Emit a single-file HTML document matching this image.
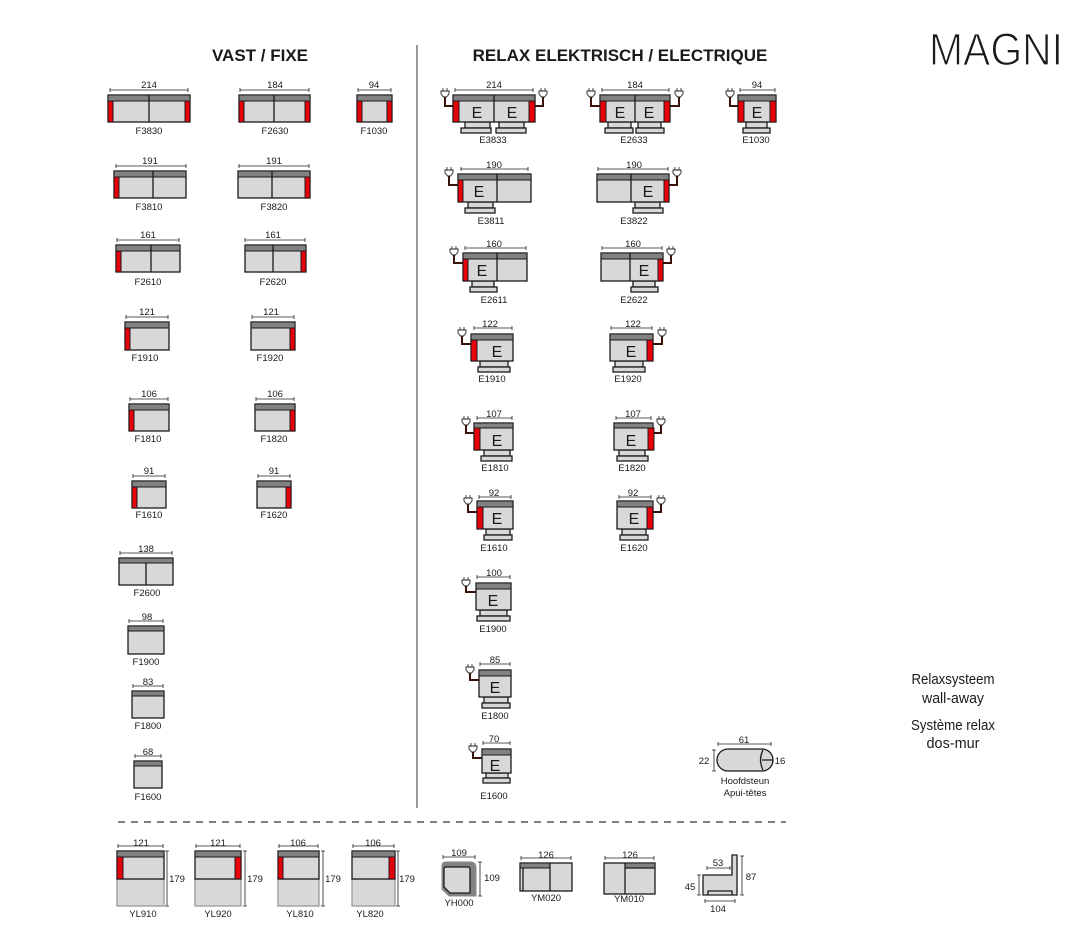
<!DOCTYPE html>
<html><head><meta charset="utf-8"><style>
body{margin:0;background:#fff}
svg{display:block}
.b{fill:#d8d8d8;stroke:#1a1a1a;stroke-width:1.3}
.k{fill:#828282;stroke:#1a1a1a;stroke-width:1}
.r{fill:#e8000b;stroke:#1a1a1a;stroke-width:1}
.l{stroke:#1a1a1a;stroke-width:1.3;fill:none}
.d{stroke:#222;stroke-width:0.8;fill:none}
.w{stroke:#3a1208;stroke-width:2;fill:none}
text{font-family:"Liberation Sans",sans-serif;fill:#1a1a1a}
.t{font-size:9.5px;text-anchor:middle}
.e{font-size:16px;text-anchor:middle}
</style></head><body>
<svg width="1074" height="937" viewBox="0 0 1074 937" xmlns="http://www.w3.org/2000/svg">
<defs>
<g id="p"><path class="d" d="M-2 0v3M2 0v3"/><path d="M-4 3h8v3l-2.5 3h-3l-2.5-3z" fill="#fff" stroke="#222" stroke-width="0.9"/></g>
</defs>
<text x="260" y="61" font-size="17" font-weight="bold" text-anchor="middle">VAST / FIXE</text>
<text x="620" y="61" font-size="17" font-weight="bold" text-anchor="middle">RELAX ELEKTRISCH / ELECTRIQUE</text>
<text x="929" y="65" font-size="45" textLength="134" lengthAdjust="spacingAndGlyphs" stroke="#fff" stroke-width="1.2" paint-order="normal">MAGNI</text>
<line x1="417" y1="45" x2="417" y2="808" stroke="#333" stroke-width="1"/>
<line x1="118" y1="822" x2="786" y2="822" stroke="#333" stroke-width="1.2" stroke-dasharray="7,6"/>

<g font-size="14.5">
<text x="953" y="684" text-anchor="middle" textLength="83" lengthAdjust="spacingAndGlyphs">Relaxsysteem</text>
<text x="953" y="703" text-anchor="middle" textLength="62" lengthAdjust="spacingAndGlyphs">wall-away</text>
<text x="953" y="730" text-anchor="middle" textLength="84" lengthAdjust="spacingAndGlyphs">Système relax</text>
<text x="953" y="748" text-anchor="middle" textLength="53" lengthAdjust="spacingAndGlyphs">dos-mur</text>
</g>

<!-- FIXED -->
<rect class="b" x="108" y="95" width="82" height="27"/><rect class="k" x="108" y="95" width="82" height="6"/><rect class="r" x="108" y="101" width="5" height="21"/><rect class="r" x="185" y="101" width="5" height="21"/><line class="l" x1="149" y1="95" x2="149" y2="122"/>
<path class="d" d="M110 90H188M110 88v4M188 88v4"/><text class="t" x="149" y="88">214</text><text class="t" x="149" y="134">F3830</text>
<rect class="b" x="239" y="95" width="71" height="27"/><rect class="k" x="239" y="95" width="71" height="6"/><rect class="r" x="239" y="101" width="5" height="21"/><rect class="r" x="305" y="101" width="5" height="21"/><line class="l" x1="274" y1="95" x2="274" y2="122"/>
<path class="d" d="M240 90H309M240 88v4M309 88v4"/><text class="t" x="275" y="88">184</text><text class="t" x="275" y="134">F2630</text>
<rect class="b" x="357" y="95" width="35" height="27"/><rect class="k" x="357" y="95" width="35" height="6"/><rect class="r" x="357" y="101" width="5" height="21"/><rect class="r" x="387" y="101" width="5" height="21"/>
<path class="d" d="M358 90H391M358 88v4M391 88v4"/><text class="t" x="374" y="88">94</text><text class="t" x="374" y="134">F1030</text>
<rect class="b" x="114" y="171" width="72" height="27"/><rect class="k" x="114" y="171" width="72" height="6"/><rect class="r" x="114" y="177" width="5" height="21"/><line class="l" x1="153" y1="171" x2="153" y2="198"/>
<path class="d" d="M116 166H186M116 164v4M186 164v4"/><text class="t" x="150" y="164">191</text><text class="t" x="149" y="210">F3810</text>
<rect class="b" x="238" y="171" width="72" height="27"/><rect class="k" x="238" y="171" width="72" height="6"/><rect class="r" x="305" y="177" width="5" height="21"/><line class="l" x1="272" y1="171" x2="272" y2="198"/>
<path class="d" d="M239 166H309M239 164v4M309 164v4"/><text class="t" x="274" y="164">191</text><text class="t" x="274" y="210">F3820</text>
<rect class="b" x="116" y="245" width="64" height="27"/><rect class="k" x="116" y="245" width="64" height="6"/><rect class="r" x="116" y="251" width="5" height="21"/><line class="l" x1="151" y1="245" x2="151" y2="272"/>
<path class="d" d="M117 240H179M117 238v4M179 238v4"/><text class="t" x="148" y="238">161</text><text class="t" x="148" y="285">F2610</text>
<rect class="b" x="245" y="245" width="61" height="27"/><rect class="k" x="245" y="245" width="61" height="6"/><rect class="r" x="301" y="251" width="5" height="21"/><line class="l" x1="273" y1="245" x2="273" y2="272"/>
<path class="d" d="M245 240H305M245 238v4M305 238v4"/><text class="t" x="273" y="238">161</text><text class="t" x="273" y="285">F2620</text>
<rect class="b" x="125" y="322" width="44" height="28"/><rect class="k" x="125" y="322" width="44" height="6"/><rect class="r" x="125" y="328" width="5" height="22"/>
<path class="d" d="M126 317H168M126 315v4M168 315v4"/><text class="t" x="147" y="315">121</text><text class="t" x="145" y="361">F1910</text>
<rect class="b" x="251" y="322" width="44" height="28"/><rect class="k" x="251" y="322" width="44" height="6"/><rect class="r" x="290" y="328" width="5" height="22"/>
<path class="d" d="M252 317H294M252 315v4M294 315v4"/><text class="t" x="271" y="315">121</text><text class="t" x="270" y="361">F1920</text>
<rect class="b" x="129" y="404" width="40" height="27"/><rect class="k" x="129" y="404" width="40" height="6"/><rect class="r" x="129" y="410" width="5" height="21"/>
<path class="d" d="M130 399H168M130 397v4M168 397v4"/><text class="t" x="149" y="397">106</text><text class="t" x="148" y="442">F1810</text>
<rect class="b" x="255" y="404" width="40" height="27"/><rect class="k" x="255" y="404" width="40" height="6"/><rect class="r" x="290" y="410" width="5" height="21"/>
<path class="d" d="M256 399H294M256 397v4M294 397v4"/><text class="t" x="275" y="397">106</text><text class="t" x="274" y="442">F1820</text>
<rect class="b" x="132" y="481" width="34" height="27"/><rect class="k" x="132" y="481" width="34" height="6"/><rect class="r" x="132" y="487" width="5" height="21"/>
<path class="d" d="M133 476H165M133 474v4M165 474v4"/><text class="t" x="149" y="474">91</text><text class="t" x="149" y="518">F1610</text>
<rect class="b" x="257" y="481" width="34" height="27"/><rect class="k" x="257" y="481" width="34" height="6"/><rect class="r" x="286" y="487" width="5" height="21"/>
<path class="d" d="M258 476H290M258 474v4M290 474v4"/><text class="t" x="274" y="474">91</text><text class="t" x="274" y="518">F1620</text>
<rect class="b" x="119" y="558" width="54" height="27"/><rect class="k" x="119" y="558" width="54" height="5"/><line class="l" x1="146" y1="563" x2="146" y2="585"/>
<path class="d" d="M120 553H172M120 551v4M172 551v4"/><text class="t" x="146" y="552">138</text><text class="t" x="147" y="596">F2600</text>
<rect class="b" x="128" y="626" width="36" height="28"/><rect class="k" x="128" y="626" width="36" height="5"/>
<path class="d" d="M129 621H163M129 619v4M163 619v4"/><text class="t" x="147" y="620">98</text><text class="t" x="146" y="665">F1900</text>
<rect class="b" x="132" y="691" width="32" height="27"/><rect class="k" x="132" y="691" width="32" height="5"/>
<path class="d" d="M133 686H163M133 684v4M163 684v4"/><text class="t" x="148" y="685">83</text><text class="t" x="148" y="729">F1800</text>
<rect class="b" x="134" y="761" width="28" height="27"/><rect class="k" x="134" y="761" width="28" height="5"/>
<path class="d" d="M135 756H161M135 754v4M161 754v4"/><text class="t" x="148" y="755">68</text><text class="t" x="148" y="800">F1600</text>

<!-- RELAX -->
<path class="w" d="M445 97V106H453M543 97V106H535"/><use href="#p" x="445" y="88"/><use href="#p" x="543" y="88"/>
<rect class="b" x="465" y="122" width="25" height="6"/><rect class="b" x="461" y="128" width="30" height="5"/><rect class="b" x="499" y="122" width="25" height="6"/><rect class="b" x="496" y="128" width="30" height="5"/>
<rect class="b" x="453" y="95" width="82" height="27"/><rect class="k" x="453" y="95" width="82" height="6"/><rect class="r" x="453" y="101" width="6" height="21"/><rect class="r" x="529" y="101" width="6" height="21"/><line class="l" x1="494" y1="95" x2="494" y2="122"/>
<text class="e" x="477" y="118">E</text><text class="e" x="512" y="118">E</text>
<path class="d" d="M455 90H533M455 88v4M533 88v4"/><text class="t" x="494" y="88">214</text><text class="t" x="493" y="143">E3833</text>
<path class="w" d="M591 97V106H600M679 97V106H670"/><use href="#p" x="591" y="88"/><use href="#p" x="679" y="88"/>
<rect class="b" x="608" y="122" width="23" height="6"/><rect class="b" x="605" y="128" width="28" height="5"/><rect class="b" x="638" y="122" width="23" height="6"/><rect class="b" x="636" y="128" width="28" height="5"/>
<rect class="b" x="600" y="95" width="70" height="27"/><rect class="k" x="600" y="95" width="70" height="6"/><rect class="r" x="600" y="101" width="6" height="21"/><rect class="r" x="664" y="101" width="6" height="21"/><line class="l" x1="635" y1="95" x2="635" y2="122"/>
<text class="e" x="620" y="118">E</text><text class="e" x="649" y="118">E</text>
<path class="d" d="M602 90H669M602 88v4M669 88v4"/><text class="t" x="635" y="88">184</text><text class="t" x="634" y="143">E2633</text>
<path class="w" d="M730 97V106H738"/><use href="#p" x="730" y="88"/>
<rect class="b" x="746" y="122" width="21" height="6"/><rect class="b" x="743" y="128" width="27" height="5"/>
<rect class="b" x="738" y="95" width="38" height="27"/><rect class="k" x="738" y="95" width="38" height="6"/><rect class="r" x="738" y="101" width="6" height="21"/><rect class="r" x="770" y="101" width="6" height="21"/>
<text class="e" x="757" y="118">E</text>
<path class="d" d="M740 90H775M740 88v4M775 88v4"/><text class="t" x="757" y="88">94</text><text class="t" x="756" y="143">E1030</text>
<path class="w" d="M449 176V185H458"/><use href="#p" x="449" y="167"/>
<rect class="b" x="468" y="202" width="25" height="6"/><rect class="b" x="465" y="208" width="30" height="5"/>
<rect class="b" x="458" y="174" width="73" height="28"/><rect class="k" x="458" y="174" width="73" height="6"/><rect class="r" x="458" y="180" width="5" height="22"/><line class="l" x1="497" y1="174" x2="497" y2="202"/>
<text class="e" x="479" y="197">E</text>
<path class="d" d="M461 169H528M461 167v4M528 167v4"/><text class="t" x="494" y="168">190</text><text class="t" x="491" y="224">E3811</text>
<path class="w" d="M677 176V185H669"/><use href="#p" x="677" y="167"/>
<rect class="b" x="635" y="202" width="25" height="6"/><rect class="b" x="633" y="208" width="30" height="5"/>
<rect class="b" x="597" y="174" width="72" height="28"/><rect class="k" x="597" y="174" width="72" height="6"/><rect class="r" x="664" y="180" width="5" height="22"/><line class="l" x1="631" y1="174" x2="631" y2="202"/>
<text class="e" x="648" y="197">E</text>
<path class="d" d="M598 169H668M598 167v4M668 167v4"/><text class="t" x="634" y="168">190</text><text class="t" x="634" y="224">E3822</text>
<path class="w" d="M454 255V263H463"/><use href="#p" x="454" y="246"/>
<rect class="b" x="472" y="281" width="22" height="6"/><rect class="b" x="470" y="287" width="27" height="5"/>
<rect class="b" x="463" y="253" width="64" height="28"/><rect class="k" x="463" y="253" width="64" height="6"/><rect class="r" x="463" y="259" width="5" height="22"/><line class="l" x1="497" y1="253" x2="497" y2="281"/>
<text class="e" x="482" y="276">E</text>
<path class="d" d="M465 248H526M465 246v4M526 246v4"/><text class="t" x="494" y="247">160</text><text class="t" x="494" y="303">E2611</text>
<path class="w" d="M671 255V263H663"/><use href="#p" x="671" y="246"/>
<rect class="b" x="633" y="281" width="22" height="6"/><rect class="b" x="631" y="287" width="27" height="5"/>
<rect class="b" x="601" y="253" width="62" height="28"/><rect class="k" x="601" y="253" width="62" height="6"/><rect class="r" x="658" y="259" width="5" height="22"/><line class="l" x1="630" y1="253" x2="630" y2="281"/>
<text class="e" x="644" y="276">E</text>
<path class="d" d="M602 248H662M602 246v4M662 246v4"/><text class="t" x="633" y="247">160</text><text class="t" x="634" y="303">E2622</text>
<path class="w" d="M462 336V344H471"/><use href="#p" x="462" y="327"/>
<rect class="b" x="480" y="361" width="28" height="6"/><rect class="b" x="478" y="367" width="32" height="5"/>
<rect class="b" x="471" y="334" width="42" height="27"/><rect class="k" x="471" y="334" width="42" height="6"/><rect class="r" x="471" y="340" width="6" height="21"/>
<text class="e" x="497" y="357">E</text>
<path class="d" d="M474 328H512M474 326v4M512 326v4"/><text class="t" x="490" y="327">122</text><text class="t" x="492" y="382">E1910</text>
<path class="w" d="M662 336V344H653"/><use href="#p" x="662" y="327"/>
<rect class="b" x="615" y="361" width="28" height="6"/><rect class="b" x="613" y="367" width="32" height="5"/>
<rect class="b" x="610" y="334" width="43" height="27"/><rect class="k" x="610" y="334" width="43" height="6"/><rect class="r" x="647" y="340" width="6" height="21"/>
<text class="e" x="631" y="357">E</text>
<path class="d" d="M611 328H652M611 326v4M652 326v4"/><text class="t" x="633" y="327">122</text><text class="t" x="628" y="382">E1920</text>
<path class="w" d="M466 425V433H474"/><use href="#p" x="466" y="416"/>
<rect class="b" x="484" y="450" width="26" height="6"/><rect class="b" x="481" y="456" width="31" height="5"/>
<rect class="b" x="474" y="423" width="39" height="27"/><rect class="k" x="474" y="423" width="39" height="5"/><rect class="r" x="474" y="428" width="6" height="22"/>
<text class="e" x="497" y="446">E</text>
<path class="d" d="M477 418H512M477 416v4M512 416v4"/><text class="t" x="494" y="417">107</text><text class="t" x="495" y="471">E1810</text>
<path class="w" d="M661 425V433H653"/><use href="#p" x="661" y="416"/>
<rect class="b" x="619" y="450" width="26" height="6"/><rect class="b" x="617" y="456" width="31" height="5"/>
<rect class="b" x="614" y="423" width="39" height="27"/><rect class="k" x="614" y="423" width="39" height="5"/><rect class="r" x="648" y="428" width="6" height="22"/>
<text class="e" x="631" y="446">E</text>
<path class="d" d="M616 418H651M616 416v4M651 416v4"/><text class="t" x="633" y="417">107</text><text class="t" x="632" y="471">E1820</text>
<path class="w" d="M468 504V512H477"/><use href="#p" x="468" y="495"/>
<rect class="b" x="486" y="529" width="24" height="6"/><rect class="b" x="484" y="535" width="28" height="5"/>
<rect class="b" x="477" y="501" width="36" height="28"/><rect class="k" x="477" y="501" width="36" height="6"/><rect class="r" x="477" y="507" width="6" height="22"/>
<text class="e" x="497" y="524">E</text>
<path class="d" d="M479 497H511M479 495v4M511 495v4"/><text class="t" x="494" y="496">92</text><text class="t" x="494" y="551">E1610</text>
<path class="w" d="M661 504V512H653"/><use href="#p" x="661" y="495"/>
<rect class="b" x="622" y="529" width="24" height="6"/><rect class="b" x="620" y="535" width="28" height="5"/>
<rect class="b" x="617" y="501" width="36" height="28"/><rect class="k" x="617" y="501" width="36" height="6"/><rect class="r" x="647" y="507" width="6" height="22"/>
<text class="e" x="634" y="524">E</text>
<path class="d" d="M619 497H651M619 495v4M651 495v4"/><text class="t" x="633" y="496">92</text><text class="t" x="634" y="551">E1620</text>
<path class="w" d="M466 586V592H476"/><use href="#p" x="466" y="577"/>
<rect class="b" x="480" y="610" width="27" height="6"/><rect class="b" x="477" y="616" width="33" height="5"/>
<rect class="b" x="476" y="583" width="35" height="27"/><rect class="k" x="476" y="583" width="35" height="6"/>
<text class="e" x="493" y="606">E</text>
<path class="d" d="M477 577H510M477 575v4M510 575v4"/><text class="t" x="494" y="576">100</text><text class="t" x="493" y="632">E1900</text>
<path class="w" d="M470 673V680H479"/><use href="#p" x="470" y="664"/>
<rect class="b" x="484" y="697" width="24" height="6"/><rect class="b" x="482" y="703" width="28" height="5"/>
<rect class="b" x="479" y="670" width="32" height="27"/><rect class="k" x="479" y="670" width="32" height="6"/>
<text class="e" x="495" y="693">E</text>
<path class="d" d="M480 664H510M480 662v4M510 662v4"/><text class="t" x="495" y="663">85</text><text class="t" x="495" y="719">E1800</text>
<path class="w" d="M473 752V758H482"/><use href="#p" x="473" y="743"/>
<rect class="b" x="486" y="773" width="22" height="5"/><rect class="b" x="483" y="778" width="27" height="5"/>
<rect class="b" x="482" y="749" width="29" height="24"/><rect class="k" x="482" y="749" width="29" height="6"/>
<text class="e" x="495" y="771">E</text>
<path class="d" d="M483 743H510M483 741v4M510 741v4"/><text class="t" x="494" y="742">70</text><text class="t" x="494" y="799">E1600</text>
<rect class="b" x="717" y="749" width="56" height="22" rx="11"/><path class="l" d="M763 750Q758 760 763 770M762 760H773"/>
<path class="d" d="M718 744H771M718 742v4M771 742v4M714 750V771M712 750h4M712 771h4"/>
<text class="t" x="744" y="743">61</text><text class="t" x="704" y="764">22</text><text class="t" x="780" y="764">16</text>
<text class="t" x="745" y="784">Hoofdsteun</text><text class="t" x="745" y="796">Apui-têtes</text>

<!-- BOTTOM -->
<rect x="117" y="879" width="47" height="27" fill="#d8d8d8" stroke="#999" stroke-width="1.3"/>
<rect class="b" x="117" y="851" width="47" height="28"/><rect class="k" x="117" y="851" width="47" height="6"/><rect class="r" x="117" y="857" width="6" height="22"/>
<path class="d" d="M118 846H163M118 844v4M163 844v4M167 851V906M165 851h4M165 906h4"/>
<text class="t" x="141" y="846">121</text><text class="t" x="177" y="882">179</text><text class="t" x="143" y="917">YL910</text>
<rect x="195" y="879" width="46" height="27" fill="#d8d8d8" stroke="#999" stroke-width="1.3"/>
<rect class="b" x="195" y="851" width="46" height="28"/><rect class="k" x="195" y="851" width="46" height="6"/><rect class="r" x="235" y="857" width="6" height="22"/>
<path class="d" d="M196 846H240M196 844v4M240 844v4M245 851V906M243 851h4M243 906h4"/>
<text class="t" x="218" y="846">121</text><text class="t" x="255" y="882">179</text><text class="t" x="218" y="917">YL920</text>
<rect x="278" y="879" width="41" height="27" fill="#d8d8d8" stroke="#999" stroke-width="1.3"/>
<rect class="b" x="278" y="851" width="41" height="28"/><rect class="k" x="278" y="851" width="41" height="6"/><rect class="r" x="278" y="857" width="5" height="22"/>
<path class="d" d="M279 846H318M279 844v4M318 844v4M323 851V906M321 851h4M321 906h4"/>
<text class="t" x="298" y="846">106</text><text class="t" x="333" y="882">179</text><text class="t" x="300" y="917">YL810</text>
<rect x="352" y="879" width="43" height="27" fill="#d8d8d8" stroke="#999" stroke-width="1.3"/>
<rect class="b" x="352" y="851" width="43" height="28"/><rect class="k" x="352" y="851" width="43" height="6"/><rect class="r" x="389" y="857" width="6" height="22"/>
<path class="d" d="M353 846H394M353 844v4M394 844v4M398 851V906M396 851h4M396 906h4"/>
<text class="t" x="373" y="846">106</text><text class="t" x="407" y="882">179</text><text class="t" x="370" y="917">YL820</text>
<path d="M446 862H470Q476 862 476 868V896H449L442 889V866Q442 862 446 862Z" fill="#828282" stroke="#888" stroke-width="1"/>
<path d="M446 867H468Q470 867 470 870V893H450L444 887V869Q444 867 446 867Z" class="b" stroke-width="1"/>
<path class="d" d="M443 857H475M443 855v4M475 855v4M480 862V896M478 862h4M478 896h4"/>
<text class="t" x="459" y="856">109</text><text class="t" x="492" y="881">109</text><text class="t" x="459" y="906">YH000</text>
<rect class="b" x="520" y="863" width="52" height="28"/><rect class="k" x="520" y="863" width="30" height="5"/><path class="l" d="M550 863V891M523 868V891"/>
<path class="d" d="M521 858H571M521 856v4M571 856v4"/><text class="t" x="546" y="858">126</text><text class="t" x="546" y="901">YM020</text>
<rect class="b" x="604" y="863" width="51" height="31"/><rect class="k" x="625" y="863" width="30" height="5"/><path class="l" d="M625 863V894M625 868H655"/>
<path class="d" d="M605 858H654M605 856v4M654 856v4"/><text class="t" x="630" y="858">126</text><text class="t" x="629" y="902">YM010</text>
<path class="b" d="M703 875H732V855H737V895H703Z"/><path class="l" d="M708 895V891H732V895"/>
<path class="d" d="M707 868H730M707 866v4M730 866v4M742 856V895M740 856h4M740 895h4M699 875V895M697 875h4M697 895h4M705 901H735M705 899v4M735 899v4"/>
<text class="t" x="718" y="866">53</text><text class="t" x="751" y="880">87</text><text class="t" x="690" y="890">45</text><text class="t" x="718" y="912">104</text>
</svg>
</body></html>
